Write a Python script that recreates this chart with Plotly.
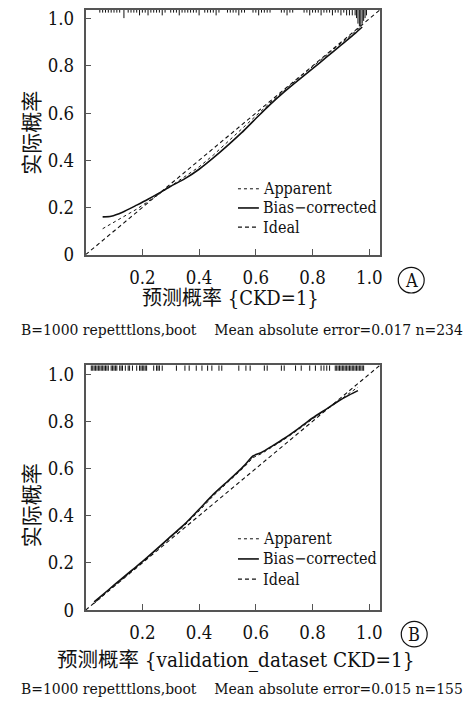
import plotly.graph_objects as go

# ---------------- data ----------------
# Panel A (training cohort)
a_x = [0.06, 0.09, 0.13, 0.18, 0.22, 0.26, 0.30, 0.35, 0.40, 0.45, 0.50,
       0.55, 0.60, 0.65, 0.70, 0.75, 0.80, 0.85, 0.90, 0.95, 0.975]
a_apparent = [0.110, 0.130, 0.157, 0.193, 0.225, 0.258, 0.292, 0.330, 0.372, 0.422, 0.476,
              0.530, 0.588, 0.643, 0.697, 0.748, 0.797, 0.847, 0.896, 0.945, 0.970]
a_bias = [0.160, 0.163, 0.180, 0.210, 0.235, 0.262, 0.290, 0.322, 0.362, 0.410, 0.462,
          0.517, 0.577, 0.636, 0.690, 0.740, 0.788, 0.838, 0.888, 0.938, 0.965]
a_rug_x = [0.05, 0.06, 0.07, 0.08, 0.09, 0.10, 0.11, 0.12, 0.135, 0.15, 0.16, 0.17, 0.18,
           0.19, 0.20, 0.21, 0.22, 0.23, 0.24, 0.25, 0.26, 0.27, 0.28, 0.30, 0.31, 0.32,
           0.33, 0.34, 0.35, 0.36, 0.37, 0.38, 0.39, 0.40, 0.42, 0.43, 0.44, 0.45, 0.46,
           0.47, 0.50, 0.51, 0.52, 0.53, 0.54, 0.55, 0.56, 0.59, 0.60, 0.61, 0.62, 0.63,
           0.64, 0.65, 0.69, 0.70, 0.71, 0.72, 0.73, 0.77, 0.78, 0.79, 0.80, 0.81, 0.82,
           0.83, 0.84, 0.85, 0.86, 0.87, 0.88, 0.89, 0.90, 0.91, 0.92, 0.93, 0.94, 0.95,
           0.955, 0.96, 0.965, 0.97, 0.975, 0.98, 0.985, 0.99]
a_rug_n = [1, 1, 1, 1, 1, 1, 1, 1, 3, 1, 1, 1, 1,
           2, 1, 1, 2, 1, 1, 1, 1, 2, 1, 1, 1, 1,
           2, 1, 1, 1, 1, 1, 1, 2, 1, 1, 1, 1, 2,
           1, 1, 1, 1, 1, 2, 1, 1, 1, 1, 2, 1, 1,
           1, 1, 1, 1, 2, 1, 1, 1, 1, 2, 1, 1, 1,
           2, 1, 1, 1, 2, 1, 1, 2, 1, 2, 2, 2, 2,
           3, 5, 6, 6, 5, 4, 3, 2]

# Panel B (validation cohort)
b_x = [0.03, 0.08, 0.12, 0.16, 0.20, 0.25, 0.30, 0.35, 0.40, 0.45, 0.50, 0.53,
       0.56, 0.59, 0.62, 0.66, 0.70, 0.75, 0.80, 0.85, 0.89, 0.93, 0.96]
b_apparent = [0.028, 0.082, 0.122, 0.162, 0.203, 0.255, 0.308, 0.360, 0.420, 0.484, 0.540,
              0.572, 0.607, 0.646, 0.663, 0.693, 0.723, 0.765, 0.810, 0.850, 0.884, 0.918, 0.945]
b_bias = [0.035, 0.085, 0.126, 0.166, 0.205, 0.258, 0.312, 0.365, 0.427, 0.490, 0.545,
          0.578, 0.613, 0.653, 0.668, 0.697, 0.727, 0.769, 0.814, 0.853, 0.885, 0.912, 0.930]
b_rug_x = [0.02, 0.025, 0.03, 0.035, 0.04, 0.045, 0.05, 0.055, 0.06, 0.065, 0.07, 0.075,
           0.08, 0.09, 0.095, 0.10, 0.105, 0.11, 0.12, 0.125, 0.13, 0.14, 0.15, 0.155,
           0.165, 0.18, 0.19, 0.195, 0.20, 0.205, 0.21, 0.215, 0.24, 0.25, 0.255, 0.26,
           0.27, 0.32, 0.35, 0.365, 0.39, 0.41, 0.43, 0.445, 0.47, 0.48, 0.54, 0.565,
           0.58, 0.63, 0.64, 0.69, 0.70, 0.74, 0.76, 0.79, 0.81, 0.83, 0.84, 0.85, 0.86,
           0.88, 0.885, 0.89, 0.895, 0.90, 0.905, 0.91, 0.915, 0.92, 0.925, 0.93, 0.935,
           0.94, 0.945, 0.95, 0.955, 0.96, 0.965, 0.97, 0.975, 0.98]
b_rug_n = [2] * len(b_rug_x)

x_ticks = [0.2, 0.4, 0.6, 0.8, 1.0]
x_tick_labels = ["0.2", "0.4", "0.6", "0.8", "1.0"]
y_ticks = [0, 0.2, 0.4, 0.6, 0.8, 1.0]
y_tick_labels = ["0", "0.2", "0.4", "0.6", "0.8", "1.0"]

series_names = ["Apparent", "Bias\u2212corrected", "Ideal"]
y_title = "实际概率"
a_x_title = "预测概率 {CKD=1}"
b_x_title = "预测概率 {validation_dataset CKD=1}"
a_caption = "B=1000 repetttlons,boot &nbsp;&nbsp; Mean absolute error=0.017 n=234"
b_caption = "B=1000 repetttlons,boot &nbsp;&nbsp; Mean absolute error=0.015 n=155"
panel_tags = ["A", "B"]

# ---------------- styling ----------------
W, H = 469, 711
XMAX, YMAX = 1.039, 1.0375
FONT = "DejaVu Serif Condensed, DejaVu Serif"
CJK_FONT = "Noto Sans CJK SC"
INK = "#111111"
FRAME = "#555555"
RUG_UNIT = 2.7 / 240 * YMAX  # length of one rug count, in y units
STYLES = [dict(color=INK, width=1, dash="dot"),
          dict(color=INK, width=1.6),
          dict(color=INK, width=1.1, dash="4px,3px")]


def px_x(p):
    return p / W


def px_y(p):
    return 1 - p / H


fig = go.Figure()


def add_panel(xs, app, bias, rug_x, rug_n, xa, ya):
    # rug of predicted probabilities hanging from the top frame
    rx, ry = [], []
    for x, n in zip(rug_x, rug_n):
        rx += [x, x, None]
        ry += [YMAX, YMAX - n * RUG_UNIT, None]
    fig.add_trace(go.Scatter(x=rx, y=ry, mode="lines", xaxis=xa, yaxis=ya,
                             line=dict(color=INK, width=1), showlegend=False,
                             hoverinfo="skip"))
    fig.add_trace(go.Scatter(x=xs, y=app, mode="lines", name=series_names[0],
                             xaxis=xa, yaxis=ya, showlegend=False, line=STYLES[0]))
    fig.add_trace(go.Scatter(x=xs, y=bias, mode="lines", name=series_names[1],
                             xaxis=xa, yaxis=ya, showlegend=False,
                             line=dict(STYLES[1], shape="spline", smoothing=0.6)))
    fig.add_trace(go.Scatter(x=[0, XMAX], y=[0, XMAX], mode="lines", name=series_names[2],
                             xaxis=xa, yaxis=ya, showlegend=False, line=STYLES[2]))


add_panel(a_x, a_apparent, a_bias, a_rug_x, a_rug_n, "x", "y")
add_panel(b_x, b_apparent, b_bias, b_rug_x, b_rug_n, "x2", "y2")

axis_common = dict(showline=True, mirror=True, linecolor=FRAME, linewidth=1.5,
                   ticks="inside", ticklen=6, tickwidth=1, tickcolor=FRAME,
                   showgrid=False, zeroline=False,
                   tickfont=dict(family=FONT, size=18.5, color=INK))

plot_left, plot_right = 86, 382
a_top, a_bottom = 8, 257
b_top, b_bottom = 369.5, 618.5

fig.update_layout(
    width=W, height=H, margin=dict(l=0, r=0, t=0, b=0),
    paper_bgcolor="white", plot_bgcolor="white",
    font=dict(family=FONT, color=INK), showlegend=False,
    xaxis=dict(domain=[px_x(plot_left), px_x(plot_right)], range=[0, XMAX], anchor="y",
               tickvals=x_ticks, ticktext=x_tick_labels, ticklabelstandoff=5, **axis_common),
    yaxis=dict(domain=[px_y(a_bottom), px_y(a_top)], range=[0, YMAX], anchor="x",
               tickvals=y_ticks, ticktext=y_tick_labels, ticklabelstandoff=6, **axis_common),
    xaxis2=dict(domain=[px_x(plot_left), px_x(plot_right)], range=[0, XMAX], anchor="y2",
                tickvals=x_ticks, ticktext=x_tick_labels, ticklabelstandoff=5, **axis_common),
    yaxis2=dict(domain=[px_y(b_bottom), px_y(b_top)], range=[0, YMAX], anchor="x2",
                tickvals=y_ticks, ticktext=y_tick_labels, ticklabelstandoff=6, **axis_common),
)

# key for each panel: short line samples with labels
for rows in ([190, 209.5, 229], [546, 566.5, 587]):
    for name, style, ry in zip(series_names, STYLES, rows):
        fig.add_shape(type="line", xref="paper", yref="paper",
                      x0=px_x(239), x1=px_x(260), y0=px_y(ry), y1=px_y(ry),
                      line=style)
        fig.add_annotation(text=name, x=px_x(262), y=px_y(ry), xref="paper", yref="paper",
                           xanchor="left", yanchor="middle", showarrow=False,
                           font=dict(family=FONT, size=16, color=INK))

# axis titles, captions and panel tags
texts = [
    (y_title, 30, 133, -90, 21, CJK_FONT),
    (y_title, 30, 512, -90, 21, CJK_FONT),
    (a_x_title, 231, 301, 0, 20, FONT + ", " + CJK_FONT),
    (b_x_title, 237, 669, 0, 20.5, FONT + ", " + CJK_FONT),
    (a_caption, 243, 334, 0, 15.5, FONT),
    (b_caption, 243, 699, 0, 15.5, FONT),
]
for t, cx, cy, ang, sz, fam in texts:
    fig.add_annotation(text=t, x=px_x(cx), y=px_y(cy), xref="paper", yref="paper",
                       xanchor="center", yanchor="middle", textangle=ang, showarrow=False,
                       font=dict(family=fam, size=sz, color=INK))

for tag, cx, cy in [(panel_tags[0], 413, 283), (panel_tags[1], 416, 643)]:
    r = 13
    fig.add_shape(type="circle", xref="paper", yref="paper",
                  x0=px_x(cx - r), x1=px_x(cx + r), y0=px_y(cy + r), y1=px_y(cy - r),
                  line=dict(color=INK, width=1.2))
    fig.add_annotation(text=tag, x=px_x(cx), y=px_y(cy), xref="paper", yref="paper",
                       xanchor="center", yanchor="middle", showarrow=False,
                       font=dict(family=FONT, size=18, color=INK))

fig.write_html("out.html")
